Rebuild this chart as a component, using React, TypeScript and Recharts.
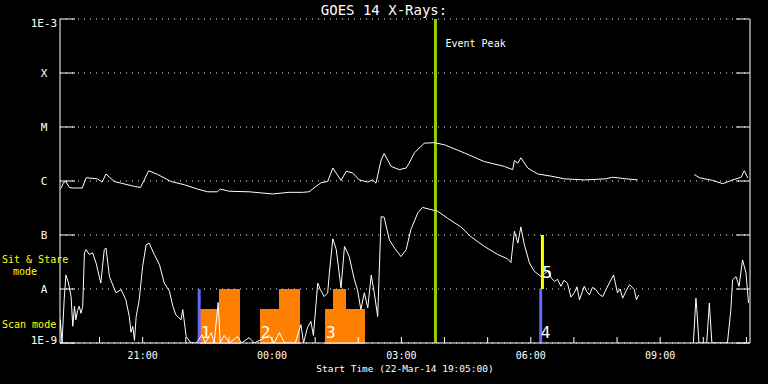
import React from 'react';
import {
  LineChart,
  Line,
  XAxis,
  YAxis,
  CartesianGrid,
  ReferenceLine,
  ReferenceArea,
  ReferenceDot,
} from 'recharts';

// time axis in hours relative to 00:00 on 22-Mar-14 (start 21-Mar 19:05)
const START_HOUR = -(4 + 55 / 60);
const END_HOUR = 11 + 5 / 60;
const HOUR_TICKS = [-4, -3, -2, -1, 0, 1, 2, 3, 4, 5, 6, 7, 8, 9, 10, 11];

// flux axis in log10(W/m^2)
const FLUX_TICKS = [-9, -8, -7, -6, -5, -4, -3];
const FLUX_LABELS: Record<string, string> = {
  '-9': '1E-9',
  '-8': 'A',
  '-7': 'B',
  '-6': 'C',
  '-5': 'M',
  '-4': 'X',
  '-3': '1E-3',
};

// 1-8 A channel: [hour, log10 flux]
const LONG_CHANNEL: [number, number | null][] = [
  [-4.92, -6.15], [-4.88, -6.12], [-4.84, -6.03], [-4.78, -6.01], [-4.70, -6.12],
  [-4.63, -6.13], [-4.40, -6.13], [-4.31, -5.94], [-4.05, -5.96], [-3.94, -6.02],
  [-3.85, -5.87], [-3.66, -6.01], [-3.50, -6.04], [-3.19, -6.10], [-3.05, -6.12],
  [-2.86, -5.81], [-2.65, -5.88], [-2.34, -6.01], [-2.03, -6.07], [-1.73, -6.15],
  [-1.49, -6.20], [-1.27, -6.20], [-1.20, -6.15], [-0.99, -6.19], [-0.53, -6.20],
  [0.01, -6.24], [0.40, -6.21], [0.70, -6.21], [0.86, -6.20], [1.02, -6.10],
  [1.14, -6.03], [1.29, -6.01], [1.41, -5.76], [1.60, -5.99], [1.72, -5.82],
  [1.87, -5.85], [2.02, -5.98], [2.22, -6.02], [2.33, -5.98], [2.41, -6.04],
  [2.53, -5.61], [2.60, -5.49], [2.76, -5.73], [2.95, -5.79], [3.11, -5.76],
  [3.18, -5.67], [3.30, -5.48], [3.53, -5.30], [3.76, -5.29], [4.00, -5.33],
  [4.46, -5.48], [4.92, -5.64], [5.39, -5.73], [5.58, -5.79], [5.62, -5.62],
  [5.70, -5.67], [5.77, -5.57], [5.93, -5.76], [6.16, -5.87], [6.47, -5.91],
  [6.78, -5.96], [7.24, -5.98], [7.74, -5.96], [7.90, -5.93], [8.21, -5.96],
  [8.48, -5.98], [8.6, null], [9.79, -5.88], [9.91, -5.94], [10.22, -5.99],
  [10.45, -6.05], [10.68, -5.98], [10.88, -5.93], [10.95, -5.81], [11.03, -5.94],
];

// 0.5-4 A channel: [hour, log10 flux]
const SHORT_CHANNEL: [number, number | null][] = [
  [-4.92, -8.75], [-4.91, -8.57], [-4.87, -9], [-4.82, -8.20], [-4.78, -7.74],
  [-4.72, -7.89], [-4.66, -8.14], [-4.62, -8.69], [-4.58, -8.32], [-4.55, -8.57],
  [-4.51, -8.40], [-4.47, -8.32], [-4.43, -8.45], [-4.39, -8.32], [-4.35, -7.33],
  [-4.31, -7.27], [-4.24, -7.36], [-4.16, -7.33], [-4.08, -7.52], [-3.97, -7.89],
  [-3.89, -7.27], [-3.85, -7.24], [-3.77, -7.77], [-3.62, -8.07], [-3.50, -8.01],
  [-3.39, -8.20], [-3.31, -8.51], [-3.27, -8.80], [-3.23, -8.69], [-3.19, -8.95],
  [-3.15, -8.51], [-3.08, -8.20], [-3.00, -7.58], [-2.92, -7.18], [-2.85, -7.15],
  [-2.73, -7.36], [-2.61, -7.55], [-2.50, -7.89], [-2.38, -8.04], [-2.30, -8.32],
  [-2.23, -8.48], [-2.11, -8.57], [-2.07, -8.38], [-1.99, -8.88], [-1.88, -9],
  [-1.76, -9], [-1.62, -8.85], [-1.55, -9], [-1.41, -8.81], [-1.34, -9],
  [-1.25, -8.25], [-1.20, -9], [-1.11, -8.86], [-0.99, -9], [-0.80, -8.88],
  [-0.71, -9], [-0.53, -8.90], [-0.41, -9], [-0.06, -8.86], [0.05, -9],
  [0.17, -8.81], [0.29, -9], [0.54, -9], [0.67, -8.66], [0.73, -9],
  [0.82, -8.72], [0.90, -8.60], [0.96, -8.86], [1.06, -7.89], [1.12, -8.01],
  [1.21, -8.14], [1.29, -8.07], [1.33, -7.70], [1.41, -7.07], [1.49, -7.27],
  [1.60, -7.98], [1.68, -7.21], [1.79, -7.40], [1.91, -7.83], [1.98, -8.01],
  [2.06, -8.38], [2.14, -8.07], [2.22, -8.35], [2.30, -7.74], [2.37, -8.07],
  [2.45, -8.51], [2.53, -6.66], [2.60, -6.67], [2.72, -7.09], [2.84, -7.24],
  [2.99, -7.40], [3.11, -7.27], [3.22, -6.90], [3.38, -6.59], [3.49, -6.49],
  [3.69, -6.53], [3.84, -6.56], [4.07, -6.69], [4.38, -6.85], [4.61, -7.03],
  [4.92, -7.21], [5.23, -7.36], [5.46, -7.44], [5.54, -7.51], [5.62, -6.93],
  [5.70, -7.15], [5.77, -6.85], [5.85, -7.18], [5.97, -7.52], [6.08, -7.67],
  [6.24, -7.77], [6.39, -7.67], [6.48, -7.80], [6.55, -7.86], [6.62, -7.82],
  [6.70, -7.95], [6.77, -7.84], [6.85, -7.89], [6.93, -8.15], [7.01, -8.07],
  [7.07, -7.96], [7.13, -8.20], [7.24, -7.95], [7.30, -8.05], [7.36, -8.11],
  [7.43, -7.97], [7.51, -8.01], [7.59, -8.10], [7.67, -8.14], [7.75, -8.00],
  [7.82, -7.89], [7.92, -7.74], [8.01, -8.07], [8.07, -8.00], [8.13, -8.17],
  [8.22, -8.02], [8.29, -7.92], [8.40, -8.01], [8.45, -8.20], [8.50, -8.11],
  [8.6, null], [9.77, -9], [9.83, -8.17], [9.85, -8.38], [9.90, -9],
  [10.08, -9], [10.14, -8.26], [10.20, -9], [10.56, -9], [10.64, -8.38],
  [10.68, -7.83], [10.76, -7.77], [10.83, -7.95], [10.91, -7.46], [10.99, -7.70],
  [11.05, -8.26],
];

// scan mode blocks (orange)
const SCAN_BLOCKS = [
  { from: -1.66, to: -1.22, top: -8.38 },
  { from: -1.22, to: -0.76, top: -8 },
  { from: -0.27, to: 0.17, top: -8.38 },
  { from: 0.17, to: 0.63, top: -8 },
  { from: 1.24, to: 1.42, top: -8.38 },
  { from: 1.42, to: 1.70, top: -8 },
  { from: 1.70, to: 2.14, top: -8.38 },
];

// sit & stare / scan markers
const MARKERS = [
  { t: -1.69, from: -9, to: -8, color: '#6666ff' },
  { t: 6.23, from: -9, to: -8, color: '#6666ff' },
  { t: 6.27, from: -8, to: -7, color: '#ffff00' },
];

// numbered labels: [hour, log10 flux of baseline, text]
const SEQ_LABELS: [number, number, string][] = [
  [-1.65, -8.9, '1'],
  [-0.26, -8.9, '2'],
  [1.25, -8.9, '3'],
  [6.23, -8.9, '4'],
  [6.27, -7.8, '5'],
];

const EVENT_PEAK = 3.79;

const FONT = '"DejaVu Sans Mono", monospace';

const longData = LONG_CHANNEL.map(([t, v]) => ({ t, v }));
const shortData = SHORT_CHANNEL.map(([t, v]) => ({ t, v }));

const hourLabel = (h: number) => {
  if (h % 3 !== 0) return '';
  const hh = (h + 24) % 24;
  return `${String(hh).padStart(2, '0')}:00`;
};

const FluxTick = ({ y, payload }: any) => {
  let dy = 4;
  if (payload.value === -3) dy = 8;
  if (payload.value === -9) dy = 1;
  return (
    <text x={44} y={y + dy} textAnchor="middle" fill="#fff" fontSize={11} fontFamily={FONT}>
      {FLUX_LABELS[String(payload.value)]}
    </text>
  );
};

const NoTick = () => <g />;

export default function App() {
  return (
    <div
      style={{
        position: 'fixed',
        left: 0,
        top: 0,
        width: 768,
        height: 384,
        background: '#000',
      }}
    >
      <LineChart
        width={768}
        height={384}
        margin={{ top: 19, right: 0, bottom: 0, left: 0 }}
      >
        <CartesianGrid
          horizontal
          vertical={false}
          stroke="#fff"
          strokeDasharray="1 5"
        />
        <XAxis
          dataKey="t"
          type="number"
          domain={[START_HOUR, END_HOUR]}
          ticks={HOUR_TICKS}
          allowDataOverflow
          height={41}
          stroke="#fff"
          tickSize={-6}
          tickMargin={15}
          tickFormatter={hourLabel}
          tick={{ fill: '#fff', fontSize: 10, fontFamily: FONT }}
          interval={0}
        />
        <XAxis
          xAxisId="top"
          orientation="top"
          dataKey="t"
          type="number"
          domain={[START_HOUR, END_HOUR]}
          ticks={HOUR_TICKS}
          allowDataOverflow
          height={0}
          stroke="#fff"
          tickSize={-6}
          tick={NoTick}
          interval={0}
        />
        <YAxis
          type="number"
          domain={[-9, -3]}
          ticks={FLUX_TICKS}
          allowDataOverflow
          width={60}
          stroke="#fff"
          tickSize={-15}
          tick={FluxTick}
          interval={0}
        />
        <YAxis
          yAxisId="right"
          orientation="right"
          type="number"
          domain={[-9, -3]}
          ticks={FLUX_TICKS}
          allowDataOverflow
          width={18}
          stroke="#fff"
          tickSize={-14}
          tick={NoTick}
          interval={0}
        />

        {SCAN_BLOCKS.map((b, i) => (
          <ReferenceArea
            key={i}
            x1={b.from}
            x2={b.to}
            y1={-9}
            y2={b.top}
            fill="#ff8000"
            fillOpacity={1}
            stroke="#ff8000"
            strokeWidth={1}
            shapeRendering="crispEdges"
          />
        ))}

        <ReferenceLine
          x={EVENT_PEAK}
          stroke="#99cc00"
          strokeWidth={3}
          label={(props: any) => (
            <text
              x={props.viewBox.x + 10}
              y={props.viewBox.y + 28}
              fill="#fff"
              fontSize={10}
              fontFamily={FONT}
            >
              Event Peak
            </text>
          )}
        />

        {MARKERS.map((m, i) => (
          <ReferenceLine
            key={i}
            segment={[
              { x: m.t, y: m.from },
              { x: m.t, y: m.to },
            ]}
            stroke={m.color}
            strokeWidth={3}
          />
        ))}

        {SEQ_LABELS.map(([t, y, text], i) => (
          <ReferenceDot
            key={i}
            x={t}
            y={y}
            r={0}
            fill="none"
            stroke="none"
            label={(props: any) => (
              <text
                x={props.viewBox.x}
                y={props.viewBox.y}
                fill="#fff"
                fontSize={16}
                fontFamily={FONT}
              >
                {text}
              </text>
            )}
          />
        ))}

        <Line
          data={longData}
          dataKey="v"
          type="linear"
          stroke="#fff"
          strokeWidth={1}
          dot={false}
          isAnimationActive={false}
          connectNulls={false}
        />
        <Line
          data={shortData}
          dataKey="v"
          type="linear"
          stroke="#fff"
          strokeWidth={1}
          dot={false}
          isAnimationActive={false}
          connectNulls={false}
        />
      </LineChart>

      <svg
        width={768}
        height={384}
        style={{ position: 'absolute', left: 0, top: 0, pointerEvents: 'none' }}
      >
        <text x={384} y={15} textAnchor="middle" fill="#fff" fontSize={14} fontFamily={FONT}>
          GOES 14 X-Rays:
        </text>
        <text x={405} y={372} textAnchor="middle" fill="#fff" fontSize={9.5} fontFamily={FONT}>
          Start Time (22-Mar-14 19:05:00)
        </text>
        <text x={2} y={263} fill="#ffff00" fontSize={10} fontFamily={FONT}>
          Sit &amp; Stare
        </text>
        <text x={13} y={275} fill="#ffff00" fontSize={10} fontFamily={FONT}>
          mode
        </text>
        <text x={2} y={328} fill="#ffff00" fontSize={10} fontFamily={FONT}>
          Scan mode
        </text>
      </svg>
    </div>
  );
}
